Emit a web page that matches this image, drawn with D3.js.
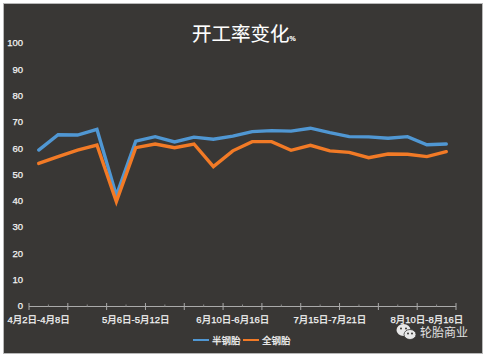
<!DOCTYPE html>
<html><head><meta charset="utf-8">
<script src="https://cdnjs.cloudflare.com/ajax/libs/d3/7.8.5/d3.min.js"></script>
<style>html,body{margin:0;padding:0;background:#fff}svg{display:block}text{font-family:"Liberation Sans","Noto Sans CJK SC",sans-serif}</style>
</head><body><svg id="c" width="487" height="357"></svg>
<script>
// Only every fifth week is labelled in the picture; the other weeks stay unnamed.
const shownLabels=["4月2日-4月8日","5月6日-5月12日","6月10日-6月16日","7月15日-7月21日","8月10日-8月16日"];
const shownWeeks=[0,5,10,15,20];
const semiSteel=[59.3,65.1,65,67.2,42,62.7,64.4,62.4,64.2,63.4,64.6,66.3,66.7,66.5,67.6,65.9,64.4,64.3,63.8,64.4,61.3,61.6];
const allSteel=[54.2,56.8,59.3,61.2,39.7,60.2,61.6,60.2,61.6,53,59,62.5,62.5,59.2,61.1,59,58.4,56.4,57.8,57.7,56.8,58.7];
const yTicks=[0,10,20,30,40,50,60,70,80,90,100];
const legendNames=["半钢胎","全钢胎"];
const colors=["#5097d3","#f27a26"];

const svg=d3.select("#c");
svg.append("rect").attr("x",3.5).attr("y",3.5).attr("width",479).attr("height",350).attr("fill","#393735").attr("stroke","#b8b8b8").attr("stroke-width",1);

const weeks=d3.range(semiSteel.length);
const x=d3.scaleBand().domain(weeks).range([29,456]);
const y=d3.scaleLinear().domain([0,100]).range([306,43]);
const bolder=s=>s.attr("stroke","#f4f4f4").attr("stroke-width",0.25);

// y labels
bolder(svg.append("g").selectAll("text").data(yTicks).join("text")
 .attr("x",23).attr("y",d=>y(d)).attr("dy","0.35em").attr("text-anchor","end")
 .attr("font-size",9.5).attr("fill","#f4f4f4").text(d=>d));

// x axis
const axis=svg.append("g");
axis.append("line").attr("x1",29).attr("x2",456).attr("y1",306.5).attr("y2",306.5).attr("stroke","#aaa");
const edges=weeks.map(w=>x(w)).concat([x.range()[1]]);
axis.selectAll("line.t").data(edges).join("line").attr("class","t")
 .attr("x1",d=>d).attr("x2",d=>d)
 .attr("y1",(d,i)=>i%2?304.5:303).attr("y2",(d,i)=>i%2?306.5:310)
 .attr("stroke",(d,i)=>i%2?"#888":"#aaa");
bolder(axis.selectAll("text").data(shownLabels).join("text")
 .attr("x",(d,i)=>x(shownWeeks[i])+x.bandwidth()/2).attr("y",323).attr("text-anchor","middle")
 .attr("font-size",9.5).attr("fill","#f4f4f4").text(d=>d));

// lines
const line=d3.line().x((d,i)=>x(i)+x.bandwidth()/2).y(d=>y(d));
[semiSteel,allSteel].forEach((s,k)=>{
 svg.append("path").attr("d",line(s)).attr("fill","none").attr("stroke",colors[k])
  .attr("stroke-width",3.4).attr("stroke-linejoin","miter").attr("stroke-linecap","round");
});

// title
const t=svg.append("text").attr("x",192).attr("y",41).attr("font-size",19.5).attr("fill","#fff").attr("stroke","#fff").attr("stroke-width",0.1);
t.append("tspan").text("开工率变化");
t.append("tspan").attr("font-size",7).attr("font-weight",700).text("%");

// legend
const lg=svg.append("g");
[[193,212],[243,262]].forEach((p,k)=>{
 lg.append("line").attr("x1",p[0]).attr("x2",p[0]+16).attr("y1",340).attr("y2",340).attr("stroke",colors[k]).attr("stroke-width",2);
 bolder(lg.append("text").attr("x",p[1]).attr("y",344).attr("font-size",9.5).attr("fill","#f4f4f4").text(legendNames[k]));
});

// watermark
const wm=svg.append("g");
wm.append("ellipse").attr("cx",403.5).attr("cy",330).attr("rx",7).attr("ry",6).attr("fill","#e8e8e8");
wm.append("ellipse").attr("cx",410).attr("cy",334.5).attr("rx",6).attr("ry",5).attr("fill","#e8e8e8").attr("stroke","#393735").attr("stroke-width",.8);
[[401,328.5],[406,328.5],[408,333.5],[412,333.5]].forEach(p=>wm.append("circle").attr("cx",p[0]).attr("cy",p[1]).attr("r",1).attr("fill","#393735"));
wm.append("text").attr("x",420).attr("y",337).attr("font-size",12).attr("fill","#e0e0e0").text("轮胎商业");
</script></body></html>
